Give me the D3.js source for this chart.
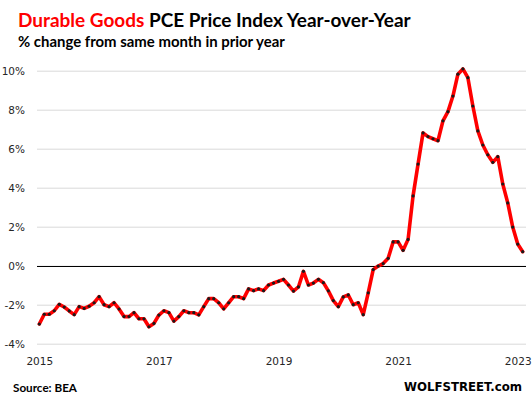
<!DOCTYPE html>
<html>
<head>
<meta charset="utf-8">
<script src="https://cdn.jsdelivr.net/npm/d3@7"></script>
<style>
  body { margin: 0; background: #fff; }
  svg { display: block; }
</style>
</head>
<body>
<div id="chart"></div>
<script>
// Durable goods PCE price index, % change y/y, Jan 2015 - Feb 2023
const startYear = 2015;
const vals2015 = [-2.99, -2.49, -2.49, -2.31, -1.98, -2.12, -2.32, -2.51, -2.10, -2.19, -2.08, -1.90];
const vals2016 = [-1.59, -2.00, -2.10, -1.90, -2.22, -2.61, -2.61, -2.41, -2.72, -2.72, -3.13, -2.96];
const vals2017 = [-2.53, -2.31, -2.41, -2.84, -2.61, -2.31, -2.41, -2.41, -2.52, -2.10, -1.69, -1.69];
const vals2018 = [-1.90, -2.21, -1.90, -1.59, -1.59, -1.69, -1.19, -1.28, -1.19, -1.28, -0.99, -0.89];
const vals2019 = [-0.80, -0.70, -0.99, -1.30, -1.09, -0.29, -0.99, -0.89, -0.70, -0.87, -1.29, -1.79];
const vals2020 = [-2.10, -1.60, -1.50, -2.00, -1.90, -2.51, -1.39, -0.20, -0.02, 0.11, 0.38, 1.22];
const vals2021 = [1.22, 0.79, 1.35, 3.58, 5.21, 6.81, 6.62, 6.51, 6.41, 7.43, 7.90, 8.70];
const vals2022 = [9.82, 10.09, 9.64, 8.19, 6.91, 6.19, 5.69, 5.30, 5.59, 4.19, 3.22, 1.98];
const vals2023 = [1.11, 0.72];

const xTickYears = [2015, 2017, 2019, 2021, 2023];
const yTicks = [-4, -2, 0, 2, 4, 6, 8, 10];

const values = [].concat(vals2015, vals2016, vals2017, vals2018, vals2019,
  vals2020, vals2021, vals2022, vals2023);
const data = values.map((v, i) => ({ i, v }));

const width = 532;
const height = 398;
const gridLeft = 37;
const gridRight = 526;

const svg = d3.select('#chart').append('svg')
  .attr('width', width)
  .attr('height', height);

const x = d3.scaleLinear().domain([0, values.length - 1]).range([39.3, 522.7]);
const y = d3.scaleLinear().domain([-4, 10]).range([343.7, 70.7]);

// fit a text element to a given width by changing its font size
function fitWidth(sel, target) {
  const size = parseFloat(sel.attr('font-size'));
  const len = sel.node().getComputedTextLength();
  sel.attr('font-size', (size * target / len).toFixed(2));
}

// gridlines + y labels
const yAxis = svg.append('g')
  .attr('transform', `translate(${gridLeft},0)`)
  .call(d3.axisLeft(y)
    .tickValues(yTicks)
    .tickSize(-(gridRight - gridLeft))
    .tickPadding(12)
    .tickFormat(d => `${d}%`));
yAxis.select('.domain').remove();
yAxis.selectAll('.tick line').attr('stroke', '#d9d9d9').attr('stroke-width', 1);
yAxis.selectAll('.tick text')
  .attr('font-family', 'DejaVu Sans, sans-serif')
  .attr('font-size', 10.5)
  .attr('fill', '#262626');

// zero line
svg.append('line')
  .attr('x1', gridLeft)
  .attr('x2', gridRight)
  .attr('y1', Math.round(y(0)) + 0.5)
  .attr('y2', Math.round(y(0)) + 0.5)
  .attr('stroke', '#000')
  .attr('stroke-width', 1.2);

// x labels
const xAxis = svg.append('g')
  .attr('transform', `translate(0,${y(-4)})`)
  .call(d3.axisBottom(x)
    .tickValues(xTickYears.map(yr => (yr - startYear) * 12))
    .tickSize(0)
    .tickPadding(14)
    .tickFormat((d, i) => String(xTickYears[i])));
xAxis.select('.domain').remove();
xAxis.selectAll('.tick text')
  .attr('font-family', 'DejaVu Sans, sans-serif')
  .attr('font-size', 10.5)
  .attr('fill', '#262626');

// series
const line = d3.line().x(d => x(d.i)).y(d => y(d.v));
svg.append('path')
  .datum(data)
  .attr('d', line)
  .attr('fill', 'none')
  .attr('stroke', '#ff0000')
  .attr('stroke-width', 3.6)
  .attr('stroke-linejoin', 'round')
  .attr('stroke-linecap', 'round');

svg.append('g')
  .selectAll('circle')
  .data(data)
  .enter()
  .append('circle')
    .attr('cx', d => x(d.i))
    .attr('cy', d => y(d.v))
    .attr('r', 1.6)
    .attr('fill', '#1a1a1a');

// titles
const title = svg.append('text')
  .attr('x', 18)
  .attr('y', 26.5)
  .attr('font-family', 'Lato, sans-serif')
  .attr('font-weight', 'bold')
  .attr('font-size', 20);
title.append('tspan').attr('fill', '#ff0000').text('Durable Goods ');
title.append('tspan').attr('fill', '#000').text('PCE Price Index Year-over-Year');
fitWidth(title, 393);

const subtitle = svg.append('text')
  .attr('x', 18)
  .attr('y', 47)
  .attr('font-family', 'Lato, sans-serif')
  .attr('font-weight', 'bold')
  .attr('font-size', 14)
  .attr('fill', '#000')
  .text('% change from same month in prior year');
fitWidth(subtitle, 267);

const source = svg.append('text')
  .attr('x', 13)
  .attr('y', 392)
  .attr('font-family', 'Lato, sans-serif')
  .attr('font-weight', 'bold')
  .attr('font-size', 12)
  .attr('fill', '#000')
  .text('Source: BEA');
fitWidth(source, 64);

const brand = svg.append('text')
  .attr('x', 404)
  .attr('y', 391)
  .attr('font-family', 'DejaVu Sans, sans-serif')
  .attr('font-weight', 'bold')
  .attr('font-size', 12)
  .attr('fill', '#000')
  .text('WOLFSTREET.com');
fitWidth(brand, 118);
</script>
</body>
</html>
